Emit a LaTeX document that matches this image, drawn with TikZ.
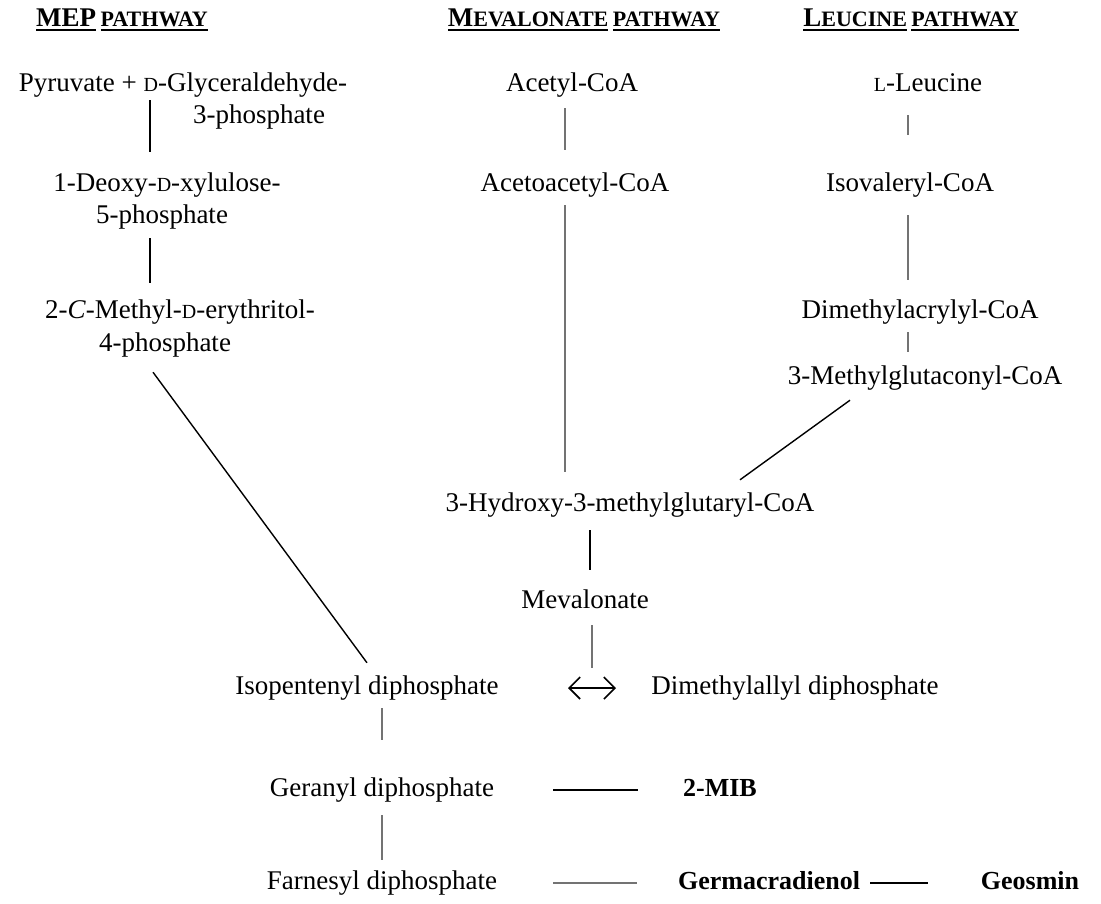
\documentclass[tikz,border=0pt]{standalone}
\usepackage{fontspec}
\setmainfont{Liberation Serif}
\usetikzlibrary{arrows.meta}
\newcommand{\smcap}[1]{{\fontsize{20pt}{20pt}\selectfont #1}}
\newcommand{\hsc}[1]{{\fontsize{22pt}{22pt}\selectfont #1}}
\newcommand{\ulx}[1]{\setbox0\hbox{#1}\rlap{\rule[-5pt]{\wd0}{2pt}}\box0}
\begin{document}
\begin{tikzpicture}[x=1pt,y=-1pt,
  txt/.style={font=\fontsize{27pt}{31pt}\selectfont, inner sep=0, text height=18pt, text depth=6pt},
  bld/.style={txt, font=\fontsize{26pt}{30pt}\selectfont\bfseries},
  hdr/.style={font=\fontsize{27pt}{31pt}\selectfont\bfseries, inner sep=0},
  blk/.style={line width=1.4pt, black},
  gry/.style={line width=1.2pt, black!55}]
\useasboundingbox (0,0) rectangle (1101,903);
% headers
\node[hdr] (hmep) at (122,20) {\ulx{MEP}\,\ulx{\hsc{PATHWAY}}};
\node[hdr] (hmev) at (584,20) {\ulx{M\hsc{EVALONATE}}\,\ulx{\hsc{PATHWAY}}};
\node[hdr] (hleu) at (911,20) {\ulx{L\hsc{EUCINE}}\,\ulx{\hsc{PATHWAY}}};
% MEP
\node[txt] (pyr) at (183,85) {Pyruvate + \smcap{D}-Glyceraldehyde-};
\node[txt] (pyrb) at (259,117) {3-phosphate};
\node[txt] (dxp) at (167,185) {1-Deoxy-\smcap{D}-xylulose-};
\node[txt] (dxpb) at (162,217) {5-phosphate};
\node[txt] (mep) at (180,312) {2-\textit{C}-Methyl-\smcap{D}-erythritol-};
\node[txt] (mepb) at (165,345) {4-phosphate};
% mevalonate
\node[txt] (acetyl) at (572,85) {Acetyl-CoA};
\node[txt] (aceto) at (575,185) {Acetoacetyl-CoA};
\node[txt] (hmg) at (630,505) {3-Hydroxy-3-methylglutaryl-CoA};
\node[txt] (mev) at (585,602) {Mevalonate};
% leucine
\node[txt] (leu) at (928,85) {\smcap{L}-Leucine};
\node[txt] (isov) at (910,185) {Isovaleryl-CoA};
\node[txt] (dma) at (920,312) {Dimethylacrylyl-CoA};
\node[txt] (mgc) at (925,378) {3-Methylglutaconyl-CoA};
% bottom
\node[txt] (ipp) at (367,688) {Isopentenyl diphosphate};
\node[txt] (dmapp) at (795,688) {Dimethylallyl diphosphate};
\coordinate (iso) at (592,688);
\node[txt] (gpp) at (382,790) {Geranyl diphosphate};
\node[bld] (mib) at (720,790) {2-MIB};
\node[txt] (fpp) at (382,883) {Farnesyl diphosphate};
\node[bld] (germ) at (769,883) {Germacradienol};
\node[bld] (geo) at (1030,883) {Geosmin};
% connectors MEP
\draw[blk] ([xshift=-33pt,yshift=-3pt]pyr.south) -- ([xshift=-17pt,yshift=21pt]dxp.north);
\draw[blk] ([xshift=-12pt,yshift=-9pt]dxpb.south) -- ([xshift=-30pt,yshift=17pt]mep.north);
\draw[blk] ([xshift=-12pt,yshift=-15pt]mepb.south) -- ([yshift=13pt]ipp.north);
% mevalonate
\draw[gry] ([xshift=-7pt,yshift=-11pt]acetyl.south) -- ([xshift=-10pt,yshift=23pt]aceto.north);
\draw[gry] ([xshift=-10pt,yshift=-8pt]aceto.south) -- ([xshift=-65pt,yshift=21pt]hmg.north);
\draw[blk] ([xshift=-40pt,yshift=-13pt]hmg.south) -- ([xshift=5pt,yshift=20pt]mev.north);
\draw[gry] ([xshift=7pt,yshift=-11pt]mev.south) -- ([yshift=20pt]iso);
\draw[line width=1.6pt, {Straight Barb[length=11pt,width=22pt]}-{Straight Barb[length=11pt,width=22pt]}] ([xshift=-24pt]iso) -- ([xshift=24pt]iso);
% leucine
\draw[gry] ([xshift=-20pt,yshift=-18pt]leu.south) -- ([xshift=-2pt,yshift=38pt]isov.north);
\draw[gry] ([xshift=-2pt,yshift=-18pt]isov.south) -- ([xshift=-12pt,yshift=20pt]dma.north);
\draw[gry] ([xshift=-12pt,yshift=-8pt]dma.south) -- ([xshift=-17pt,yshift=14pt]mgc.north);
\draw[blk] ([xshift=-75pt,yshift=-10pt]mgc.south) -- ([xshift=110pt,yshift=13pt]hmg.north);
% bottom
\draw[gry] ([xshift=15pt,yshift=-8pt]ipp.south) -- ([yshift=38pt]gpp.north);
\draw[gry] ([yshift=-13pt]gpp.south) -- ([yshift=11pt]fpp.north);
\draw[blk] ([xshift=59pt]gpp.east) -- ([xshift=-45pt]mib.west);
\draw[gry] ([xshift=56pt]fpp.east) -- ([xshift=-41pt]germ.west);
\draw[blk] ([xshift=10pt]germ.east) -- ([xshift=-53pt]geo.west);
\end{tikzpicture}
\end{document}
